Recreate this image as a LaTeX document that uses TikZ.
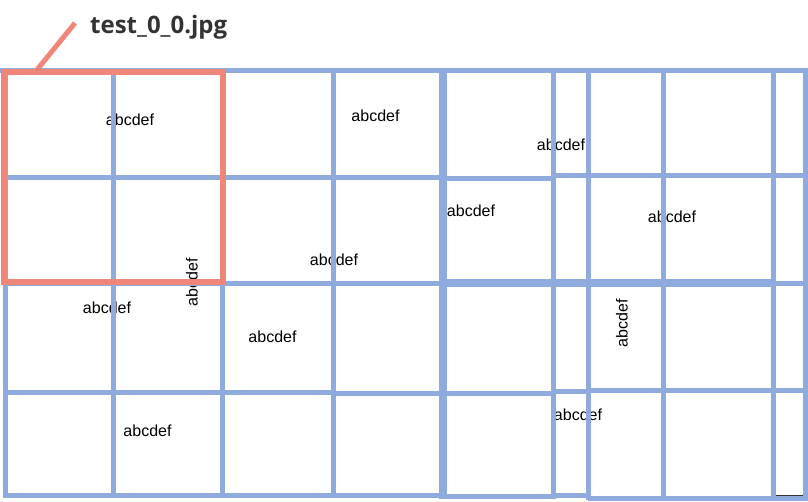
\documentclass[tikz,border=0pt]{standalone}
\usepackage{fontspec}
\setmainfont{Liberation Sans}
\newfontfamily\titlefont{Open Sans}
\definecolor{gridblue}{HTML}{8FAADC}
\definecolor{boxred}{HTML}{F08679}
\definecolor{titlegray}{HTML}{333333}
\definecolor{edgegray}{HTML}{333333}
\tikzset{
  gridline/.style={draw=gridblue, line width=5pt},
  thickgrid/.style={draw=gridblue, line width=7.5pt},
  lbl/.style={font=\fontsize{16}{16}\selectfont, inner sep=0pt, text=black},
  redbox/.style={draw=boxred, line width=6pt},
  leader/.style={draw=boxred, line width=5pt},
  titletext/.style={font=\titlefont\bfseries\fontsize{24}{24}\selectfont, text=titlegray, inner sep=0pt, anchor=base west}
}
\begin{document}
\begin{tikzpicture}[x=1pt,y=-1pt]
\useasboundingbox[fill=white] (0,0) rectangle (808,501);
% labels (under the grid)
\node[lbl] (l1) at (130,120) {abcdef};
\node[lbl] (l2) at (375.5,116) {abcdef};
\node[lbl] (l3) at (561,145) {abcdef};
\node[lbl] (l4) at (471,211) {abcdef};
\node[lbl] (l5) at (672,217) {abcdef};
\node[lbl] (l6) at (334,260) {abcdef};
\node[lbl, rotate=90] (l7) at (192,282) {abcdef};
\node[lbl] (l8) at (107,308) {abcdef};
\node[lbl] (l9) at (272.5,337) {abcdef};
\node[lbl] (l10) at (147.5,431) {abcdef};
\node[lbl, rotate=90] (l11) at (622,323) {abcdef};
\node[lbl] (l12) at (578,415) {abcdef};
% vertical grid lines
\draw[gridline] (5,68) -- (5,498);
\draw[gridline] (113,68) -- (113,498);
\draw[gridline] (222,68) -- (222,498);
\draw[gridline] (333,68) -- (333,498);
\draw[thickgrid] (443,68) -- (443,499);
\draw[gridline] (553,68) -- (553,499);
\draw[gridline] (588,68) -- (588,500);
\draw[gridline] (663,68) -- (663,500);
\draw[gridline] (773,68) -- (773,500);
\draw[gridline] (805.5,68) -- (805.5,501);
% horizontal grid lines
\draw[gridline] (0,70.5) -- (808,70.5);
\draw[gridline] (2.5,177.5) -- (443,177.5);
\draw[gridline] (443,178.5) -- (553,178.5);
\draw[gridline] (553,175.5) -- (808,175.5);
\draw[gridline] (2.5,283) -- (443,283);
\draw[thickgrid] (443,283) -- (773,283);
\draw[gridline] (773,283.5) -- (808,283.5);
\draw[gridline] (2.5,392) -- (333,392);
\draw[gridline] (333,393.5) -- (553,393.5);
\draw[gridline] (553,391) -- (588,391);
\draw[gridline] (588,390.5) -- (808,390.5);
\draw[gridline] (2.5,495.5) -- (443,495.5);
\draw[gridline] (443,496.5) -- (553,496.5);
\draw[gridline] (553,495.5) -- (588,495.5);
\draw[gridline] (588,498) -- (808,498);
\coordinate (e1) at (776,495.3);
\coordinate (e2) at (803,495.3);
\draw[draw=edgegray, line width=1pt] (e1) -- (e2);
% highlighted tile
\draw[redbox] (3.5,71.5) rectangle (223,281.5);
\coordinate (cornerpt) at (36,71);
\coordinate (leaderend) at (75,23);
\draw[leader] (cornerpt) -- (leaderend);
\node[titletext] (title) at (90,33) {test\_0\_0.jpg};
\end{tikzpicture}
\end{document}
